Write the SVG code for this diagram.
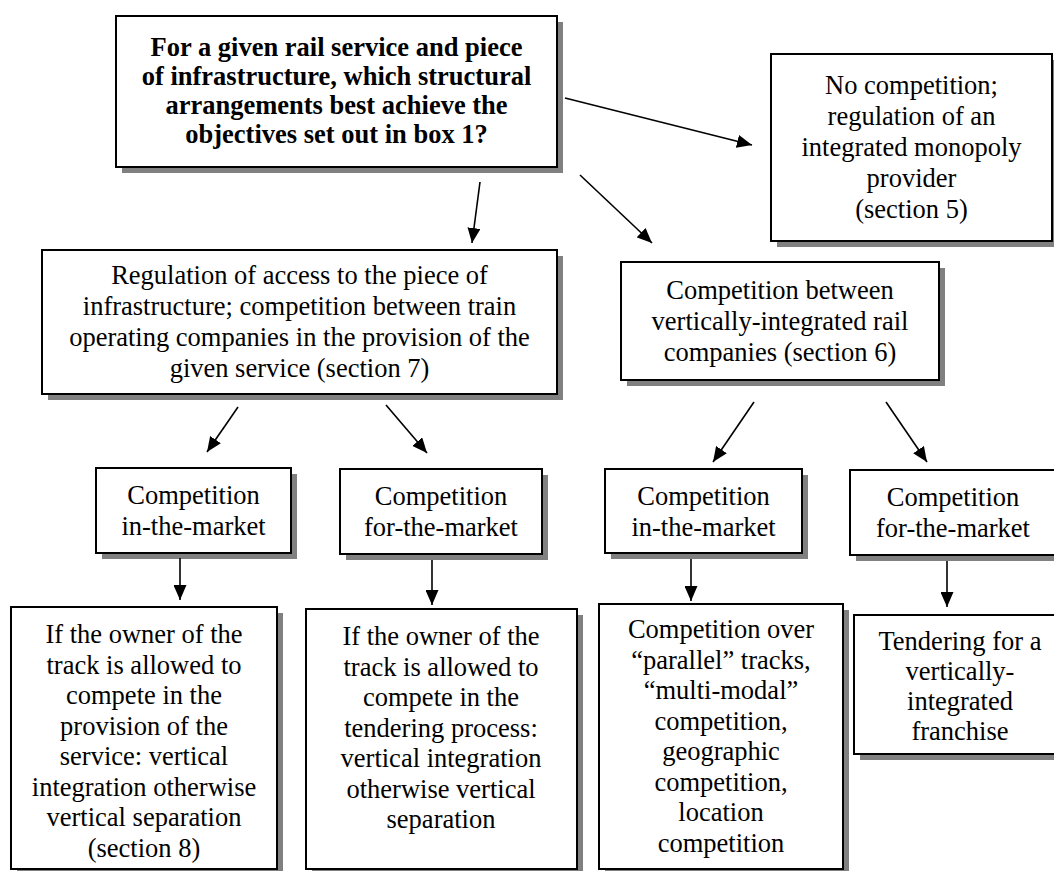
<svg xmlns="http://www.w3.org/2000/svg" width="1054" height="871" viewBox="0 0 1054 871">
  <style>
    .shadow { fill: #808080; }
    .box { fill: #ffffff; stroke: #000000; stroke-width: 2; }
    .txt { font-family: "Liberation Serif", "Times New Roman", serif; font-size: 26.5px; fill: #000000; text-anchor: middle; }
    .bold { font-weight: bold; }
    .conn { stroke: #000000; stroke-width: 1.6; fill: none; marker-end: url(#head); }
  </style>
  <defs>
    <marker id="head" viewBox="0 0 15 13" refX="15" refY="6.5" markerWidth="15" markerHeight="13" markerUnits="userSpaceOnUse" orient="auto">
      <path d="M0,0 L15,6.5 L0,13 z" fill="#000000"/>
    </marker>
  </defs>
  <rect width="1054" height="871" fill="#ffffff"/>

  <!-- question box -->
  <g id="question">
    <rect class="shadow" x="122" y="22" width="441" height="151"/>
    <rect class="box" x="116" y="16" width="441" height="151"/>
    <text class="txt bold" x="336.5" y="56">For a given rail service and piece</text>
    <text class="txt bold" x="336.5" y="85">of infrastructure, which structural</text>
    <text class="txt bold" x="336.5" y="114">arrangements best achieve the</text>
    <text class="txt bold" x="336.5" y="143">objectives set out in box 1?</text>
  </g>

  <g id="no-competition">
    <rect class="shadow" x="777" y="60" width="281" height="187"/>
    <rect class="box" x="771" y="54" width="281" height="187"/>
    <text class="txt" x="911.5" y="94">No competition;</text>
    <text class="txt" x="911.5" y="125">regulation of an</text>
    <text class="txt" x="911.5" y="156">integrated monopoly</text>
    <text class="txt" x="911.5" y="187">provider</text>
    <text class="txt" x="911.5" y="218">(section 5)</text>
  </g>

  <g id="access-regulation">
    <rect class="shadow" x="48" y="256" width="515" height="144"/>
    <rect class="box" x="42" y="250" width="515" height="144"/>
    <text class="txt" x="299.5" y="284">Regulation of access to the piece of</text>
    <text class="txt" x="299.5" y="315">infrastructure; competition between train</text>
    <text class="txt" x="299.5" y="346">operating companies in the provision of the</text>
    <text class="txt" x="299.5" y="377">given service (section 7)</text>
  </g>

  <g id="integrated-competition">
    <rect class="shadow" x="627" y="268" width="318" height="118"/>
    <rect class="box" x="621" y="262" width="318" height="118"/>
    <text class="txt" x="780" y="299">Competition between</text>
    <text class="txt" x="780" y="330">vertically-integrated rail</text>
    <text class="txt" x="780" y="361">companies (section 6)</text>
  </g>

  <g id="access-in-market">
    <rect class="shadow" x="102" y="474" width="195" height="85"/>
    <rect class="box" x="96" y="468" width="195" height="85"/>
    <text class="txt" x="193.5" y="504">Competition</text>
    <text class="txt" x="193.5" y="535">in-the-market</text>
  </g>

  <g id="access-for-market">
    <rect class="shadow" x="346" y="475" width="202" height="85"/>
    <rect class="box" x="340" y="469" width="202" height="85"/>
    <text class="txt" x="441" y="505">Competition</text>
    <text class="txt" x="441" y="536">for-the-market</text>
  </g>

  <g id="integrated-in-market">
    <rect class="shadow" x="611" y="475" width="197" height="84"/>
    <rect class="box" x="605" y="469" width="197" height="84"/>
    <text class="txt" x="703.5" y="505">Competition</text>
    <text class="txt" x="703.5" y="536">in-the-market</text>
  </g>

  <g id="integrated-for-market">
    <rect class="shadow" x="856" y="476" width="210" height="85"/>
    <rect class="box" x="850" y="470" width="210" height="85"/>
    <text class="txt" x="953" y="506">Competition</text>
    <text class="txt" x="953" y="537">for-the-market</text>
  </g>

  <g id="access-in-market-outcome">
    <rect class="shadow" x="17" y="613" width="266" height="262"/>
    <rect class="box" x="11" y="607" width="266" height="262"/>
    <text class="txt" x="144" y="643">If the owner of the</text>
    <text class="txt" x="144" y="674">track is allowed to</text>
    <text class="txt" x="144" y="704">compete in the</text>
    <text class="txt" x="144" y="735">provision of the</text>
    <text class="txt" x="144" y="765">service: vertical</text>
    <text class="txt" x="144" y="796">integration otherwise</text>
    <text class="txt" x="144" y="826">vertical separation</text>
    <text class="txt" x="144" y="857">(section 8)</text>
  </g>

  <g id="access-for-market-outcome">
    <rect class="shadow" x="312" y="615" width="271" height="260"/>
    <rect class="box" x="306" y="609" width="271" height="260"/>
    <text class="txt" x="441" y="645">If the owner of the</text>
    <text class="txt" x="441" y="676">track is allowed to</text>
    <text class="txt" x="441" y="706">compete in the</text>
    <text class="txt" x="441" y="737">tendering process:</text>
    <text class="txt" x="441" y="767">vertical integration</text>
    <text class="txt" x="441" y="798">otherwise vertical</text>
    <text class="txt" x="441" y="828">separation</text>
  </g>

  <g id="integrated-in-market-outcome">
    <rect class="shadow" x="605" y="610" width="244" height="265"/>
    <rect class="box" x="599" y="604" width="244" height="265"/>
    <text class="txt" x="721" y="638">Competition over</text>
    <text class="txt" x="721" y="669">“parallel” tracks,</text>
    <text class="txt" x="721" y="699">“multi-modal”</text>
    <text class="txt" x="721" y="730">competition,</text>
    <text class="txt" x="721" y="760">geographic</text>
    <text class="txt" x="721" y="791">competition,</text>
    <text class="txt" x="721" y="821">location</text>
    <text class="txt" x="721" y="852">competition</text>
  </g>

  <g id="integrated-for-market-outcome">
    <rect class="shadow" x="860" y="621" width="212" height="139"/>
    <rect class="box" x="854" y="615" width="212" height="139"/>
    <text class="txt" x="960" y="650">Tendering for a</text>
    <text class="txt" x="960" y="680">vertically-</text>
    <text class="txt" x="960" y="710">integrated</text>
    <text class="txt" x="960" y="740">franchise</text>
  </g>

  <!-- connectors -->
  <g id="connectors">
    <line class="conn" x1="480" y1="182" x2="472" y2="243"/>
    <line class="conn" x1="580" y1="175" x2="652" y2="243"/>
    <line class="conn" x1="565" y1="98" x2="752" y2="145"/>
    <line class="conn" x1="238" y1="407" x2="207" y2="452"/>
    <line class="conn" x1="386" y1="405" x2="427" y2="453"/>
    <line class="conn" x1="754" y1="402" x2="713" y2="462"/>
    <line class="conn" x1="886" y1="402" x2="927" y2="462"/>
    <line class="conn" x1="180" y1="558" x2="180" y2="600"/>
    <line class="conn" x1="432" y1="560" x2="432" y2="605"/>
    <line class="conn" x1="691" y1="559" x2="691" y2="601"/>
    <line class="conn" x1="947" y1="561" x2="947" y2="607"/>
  </g>
</svg>
